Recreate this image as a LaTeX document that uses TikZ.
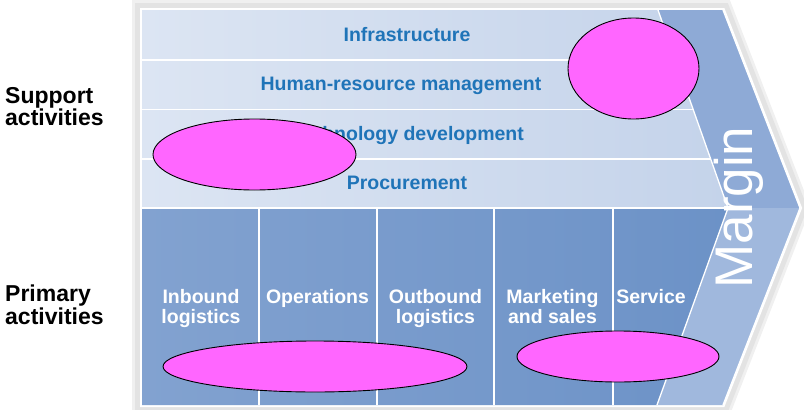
\documentclass[tikz,border=0pt]{standalone}
\usepackage{fontspec}
\setmainfont{Liberation Sans}
\usetikzlibrary{shapes.geometric}
\definecolor{suptext}{HTML}{1F74B8}
\definecolor{supL}{HTML}{DCE5F3}
\definecolor{supR}{HTML}{C4D3EA}
\definecolor{primL}{HTML}{82A2D0}
\definecolor{primR}{HTML}{6C92C7}
\definecolor{margUp}{HTML}{8EAAD6}
\definecolor{margLo}{HTML}{A0B8DD}
\definecolor{blob}{HTML}{FF66FF}
\begin{document}
\begin{tikzpicture}[x=1pt,y=-1pt,
  suplabel/.style={font=\bfseries\fontsize{19.5}{21}\selectfont, text=suptext, anchor=base, inner sep=0pt},
  primlabel/.style={font=\bfseries\fontsize{19.5}{20}\selectfont, text=white, align=center, anchor=base, inner sep=0pt},
  sidelabel/.style={font=\bfseries\fontsize{23}{20.5}\selectfont, text=black, align=left, anchor=base west, inner sep=0pt},
  sepline/.style={draw=white, line width=1.6pt},
  blobshape/.style={ellipse, draw=black, line width=0.9pt, fill=blob, inner sep=0pt}
]
\useasboundingbox (0,0) rectangle (804,410);
% shadow frame
\draw[gray!12, line width=20pt, line join=miter] (142,10) -- (723,10) -- (800,208) -- (723,405) -- (142,405) -- cycle;
\draw[gray!22, line width=14pt, line join=miter] (142,10) -- (723,10) -- (800,208) -- (723,405) -- (142,405) -- cycle;
\draw[white, line width=4pt, line join=miter] (142,10) -- (723,10) -- (800,208) -- (723,405) -- (142,405) -- cycle;
% support area
\shade[left color=supL, right color=supR] (142,10) -- (658,10) -- (728,208) -- (142,208) -- cycle;
% primary area
\shade[left color=primL, right color=primR] (142,208) -- (728,208) -- (657,405) -- (142,405) -- cycle;
% margin band
\fill[margUp] (658,10) -- (723,10) -- (800,208) -- (728,208) -- cycle;
\fill[margLo] (728,208) -- (800,208) -- (723,405) -- (657,405) -- cycle;
% separators
\draw[sepline] (142,60) -- (675.7,60);
\draw[sepline] (142,109.5) -- (693.2,109.5);
\draw[sepline] (142,159) -- (710.7,159);
\draw[sepline] (142,208) -- (728,208);
\draw[sepline, line width=1.3pt] (259,208) -- (259,405);
\draw[sepline, line width=1.3pt] (377,208) -- (377,405);
\draw[sepline, line width=1.3pt] (494,208) -- (494,405);
\draw[sepline, line width=1.3pt] (613,208) -- (613,405);
\draw[sepline, line width=1.3pt] (658,10) -- (728,208) -- (657,405);
\draw[draw=white, line width=1.3pt] (723,10) -- (800,208) -- (723,405);
% support labels
\node[suplabel] (infra) at (407,41) {Infrastructure};
\node[suplabel] (hrm) at (401,90.5) {Human-resource management};
\node[suplabel] (tech) at (407,140) {Technology development};
\node[suplabel] (proc) at (407,189) {Procurement};
% primary labels (base = last line)
\node[primlabel] (inb) at (201,323) {Inbound\\logistics};
\node[primlabel] (ops) at (317.5,303) {Operations};
\node[primlabel] (outb) at (435.5,323) {Outbound\\logistics};
\node[primlabel] (mkt) at (552.5,323) {Marketing\\and sales};
\node[primlabel] (serv) at (651,303) {Service};
% margin
\node[rotate=90, anchor=base, inner sep=0pt, text=white, font=\fontsize{53}{53}\selectfont] (margin) at (752,207.5) {Margin};
% side labels (base = last line)
\node[sidelabel] (support) at (5,125.5) {Support\\activities};
\node[sidelabel] (primary) at (5,324) {Primary\\activities};
% blobs
\node[blobshape, minimum width=131pt, minimum height=101pt] (b1) at (633.5,68.5) {};
\node[blobshape, minimum width=203pt, minimum height=71pt] (b2) at (254.5,154.5) {};
\node[blobshape, minimum width=304pt, minimum height=51pt] (b3) at (315,366.5) {};
\node[blobshape, minimum width=202pt, minimum height=51pt] (b4) at (618,356.5) {};
\end{tikzpicture}
\end{document}
